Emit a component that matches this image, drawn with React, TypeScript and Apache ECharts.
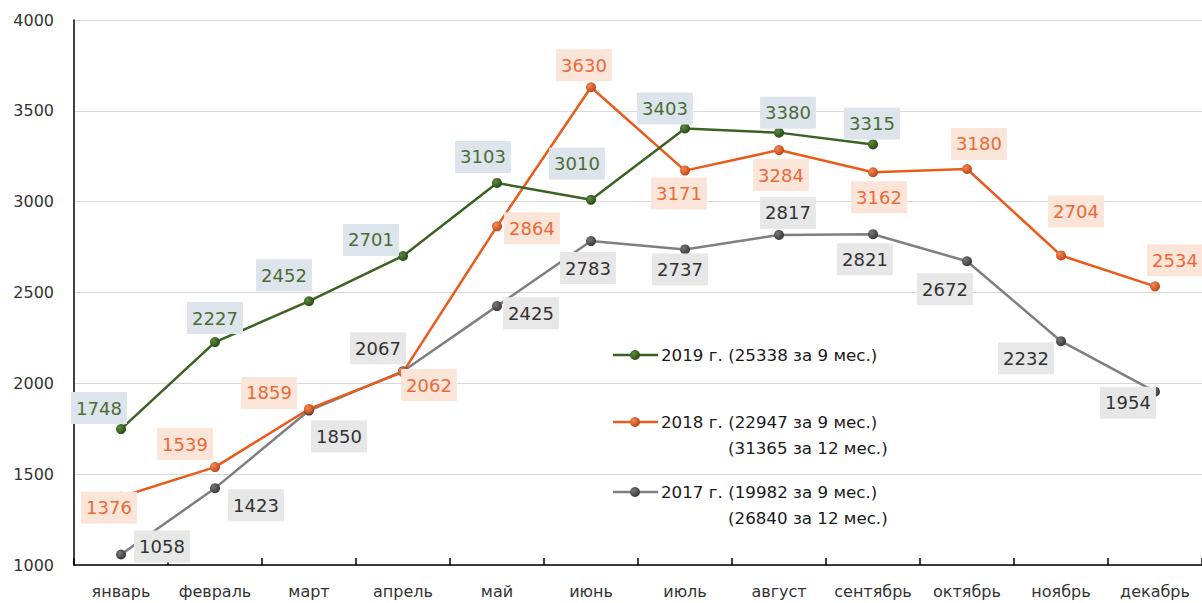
import React, { useEffect, useRef } from "react";
import * as echarts from "echarts";

const months = ["январь", "февраль", "март", "апрель", "май", "июнь", "июль", "август", "сентябрь", "октябрь", "ноябрь", "декабрь"];

const values2019 = [1748, 2227, 2452, 2701, 3103, 3010, 3403, 3380, 3315];
const values2018 = [1376, 1539, 1859, 2062, 2864, 3630, 3171, 3284, 3162, 3180, 2704, 2534];
const values2017 = [1058, 1423, 1850, 2067, 2425, 2783, 2737, 2817, 2821, 2672, 2232, 1954];

const legend2019 = ["2019 г. (25338 за 9 мес.)"];
const legend2018 = ["2018 г. (22947 за 9 мес.)", "(31365 за 12 мес.)"];
const legend2017 = ["2017 г. (19982 за 9 мес.)", "(26840 за 12 мес.)"];

const yTicks = { min: 1000, max: 4000, interval: 500 };

// label placement (offset of label centre from the point), layout only
const off2019 = [[-22, -21], [0, -24], [-25, -26], [-32, -16], [-14, -26], [-14, -36], [-20, -20], [9, -20], [-1, -21]];
const off2018 = [[-12, 11], [-30, -23], [-40, -16], [26, 13], [35, 2], [-7, -22], [-6, 23], [2, 25], [6, 25], [12, -25], [15, -44], [20, -26]];
const off2017 = [[41, -8], [41, 17], [30, 26], [-25, -23], [34, 7], [-3, 27], [-5, 20], [9, -22], [-8, 25], [-22, 28], [-35, 17], [-27, 11]];

const FONT = "DejaVu Sans";

const styles = {
  g: { line: "#3b6222", dark: "#24420f", light: "#5d8a40", text: "#4c6c36", box: "#dde4eb" },
  o: { line: "#e95a1b", dark: "#b83d10", light: "#f48a55", text: "#ea6a3a", box: "#fbe5d8" },
  k: { line: "#7f7f7f", dark: "#333333", light: "#777777", text: "#333333", box: "#e7e7e7" },
};

function markerColor(s: { dark: string; light: string }) {
  return new echarts.graphic.RadialGradient(0.35, 0.35, 0.75, [
    { offset: 0, color: s.light },
    { offset: 1, color: s.dark },
  ]);
}

function buildSeries(name: string, values: number[], offs: number[][], s: any) {
  return {
    name,
    type: "line",
    data: values.map((v, i) => ({ value: v, label: { offset: offs[i] } })),
    symbol: "circle",
    symbolSize: 10,
    lineStyle: { color: s.line, width: 2.5 },
    itemStyle: { color: markerColor(s), borderWidth: 0 },
    label: {
      show: true,
      position: "inside",
      color: s.text,
      backgroundColor: s.box,
      fontFamily: FONT,
      fontSize: 18,
      lineHeight: 20,
      padding: [6, 5, 6, 5],
    },
    z: 3,
  };
}

function legendItem(y: number, s: any, lines: string[]) {
  const els: any[] = [
    { type: "line", shape: { x1: 613, y1: y, x2: 658, y2: y }, style: { stroke: s.line, lineWidth: 2.5 } },
    { type: "circle", shape: { cx: 635, cy: y, r: 5 }, style: { fill: markerColor(s) } },
    { type: "text", x: 661, y, style: { text: lines[0], font: `16.7px "${FONT}"`, fill: "#1a1a1a", verticalAlign: "middle" } },
  ];
  if (lines[1]) {
    els.push({ type: "text", x: 728, y: y + 26, style: { text: lines[1], font: `16.7px "${FONT}"`, fill: "#1a1a1a", verticalAlign: "middle" } });
  }
  return els;
}

export default function App() {
  const ref = useRef<HTMLDivElement>(null);
  useEffect(() => {
    if (!ref.current) return;
    const chart = echarts.init(ref.current, undefined, { renderer: "svg" });
    chart.setOption({
      animation: false,
      backgroundColor: "#ffffff",
      textStyle: { fontFamily: FONT },
      grid: { left: 74, right: 0, top: 20, bottom: 38, containLabel: false },
      xAxis: {
        type: "category",
        data: months,
        boundaryGap: true,
        axisLine: { show: true, lineStyle: { color: "#000", width: 1.5 } },
        axisTick: { show: true, inside: true, length: 7, interval: 0, lineStyle: { color: "#000", width: 1.5 } },
        axisLabel: { color: "#333", fontSize: 16, fontFamily: FONT, margin: 18, interval: 0 },
        splitLine: { show: false },
      },
      yAxis: {
        type: "value",
        min: yTicks.min,
        max: yTicks.max,
        interval: yTicks.interval,
        axisLine: { show: true, lineStyle: { color: "#000", width: 1.5 } },
        axisTick: { show: false },
        axisLabel: { color: "#333", fontSize: 16, fontFamily: FONT, margin: 20, formatter: (v: number) => String(v) },
        splitLine: { show: true, lineStyle: { color: "#d9d9d9", width: 1 } },
      },
      series: [
        buildSeries("2017", values2017, off2017, styles.k),
        buildSeries("2018", values2018, off2018, styles.o),
        buildSeries("2019", values2019, off2019, styles.g),
      ],
      graphic: [
        ...legendItem(355, styles.g, legend2019),
        ...legendItem(422, styles.o, legend2018),
        ...legendItem(492, styles.k, legend2017),
      ],
    });
    return () => chart.dispose();
  }, []);
  return <div ref={ref} style={{ position: "fixed", left: 0, top: 0, width: 1202, height: 603 }} />;
}
